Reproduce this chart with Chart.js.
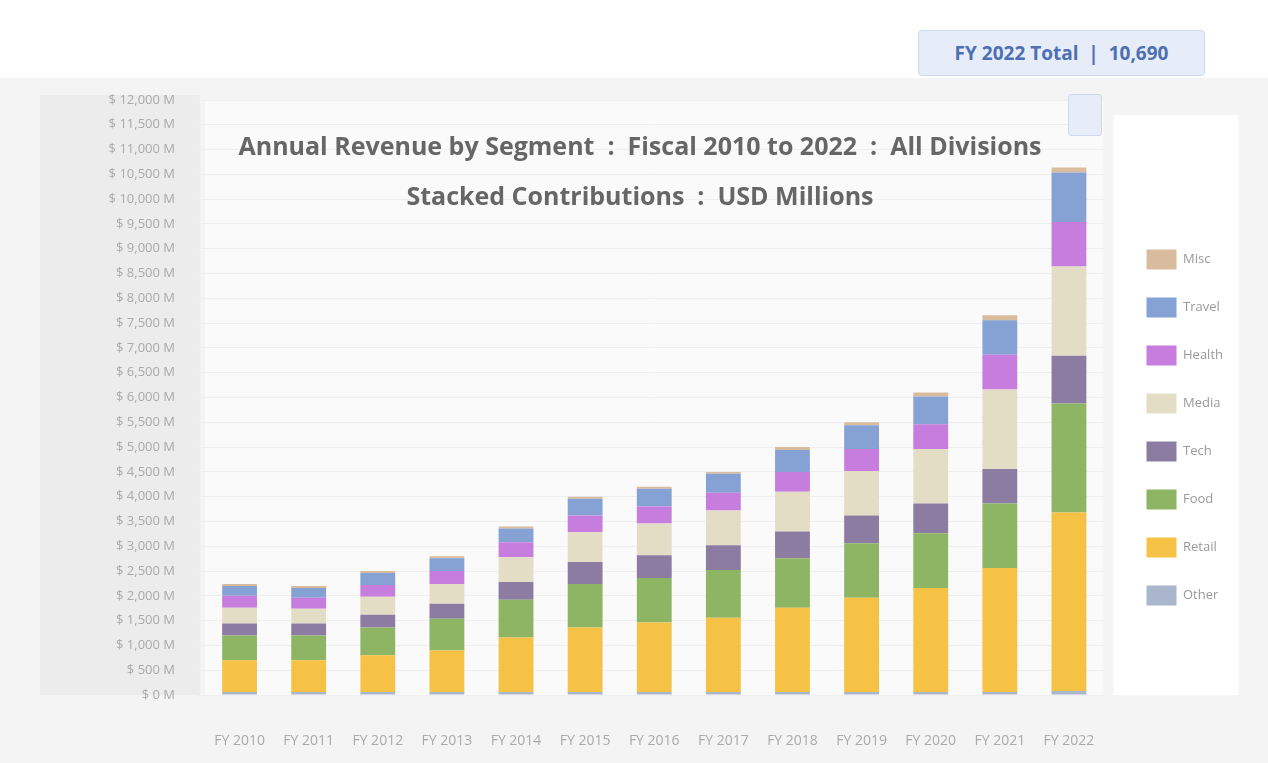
<!DOCTYPE html>
<html>
<head>
<meta charset="utf-8">
<script src="https://cdn.jsdelivr.net/npm/chart.js@4.4.1/dist/chart.umd.min.js"></script>
<style>
html, body { margin: 0; padding: 0; width: 1268px; height: 763px; overflow: hidden; background: #fff; font-family: "Open Sans", sans-serif; }
#panel { position: absolute; left: 0; top: 78px; width: 1268px; height: 700px; background: #f4f4f4; }
#wrap { position: absolute; left: 0; top: 0; width: 1268px; height: 790px; }
#title { position: absolute; left: 180px; width: 920px; top: 120px; text-align: center; font-weight: bold; font-size: 25px; line-height: 50px; color: #666; }
#badge { position: absolute; left: 918px; top: 30px; width: 285px; height: 44px; background: #e6ecf8; border: 1px solid #cfd9ee; border-radius: 4px; color: #4d6fb3; font-weight: bold; font-size: 19px; line-height: 44px; text-align: center; }
#stem { position: absolute; left: 1068px; top: 94px; width: 32px; height: 40px; background: #e6ecf8; border: 1px solid #cfd9ee; border-radius: 3px; }
</style>
</head>
<body>
<div id="panel"></div>
<div id="wrap"><canvas id="segChart" width="1268" height="790"></canvas></div>
<div id="title">Annual Revenue by Segment &nbsp;:&nbsp; Fiscal 2010 to 2022 &nbsp;:&nbsp; All Divisions<br>Stacked Contributions &nbsp;:&nbsp; USD Millions</div>
<div id="badge">FY 2022 Total &nbsp;|&nbsp; 10,690</div>
<div id="stem"></div>
<script>
// Kategori (sumbu X)
var YEARS = ['FY 2010', 'FY 2011', 'FY 2012', 'FY 2013', 'FY 2014', 'FY 2015', 'FY 2016',
             'FY 2017', 'FY 2018', 'FY 2019', 'FY 2020', 'FY 2021', 'FY 2022'];

// Nilai per segmen (urutan tumpukan: bawah -> atas)
var OTHER_VALS   = [60, 60, 60, 60, 60, 60, 60, 60, 60, 60, 60, 60, 80];
var RETAIL_VALS  = [640, 640, 740, 840, 1100, 1300, 1400, 1500, 1700, 1900, 2100, 2500, 3600];
var FOOD_VALS    = [500, 500, 560, 640, 760, 880, 900, 960, 1000, 1100, 1100, 1300, 2200];
var TECH_VALS    = [240, 240, 260, 300, 360, 440, 460, 500, 540, 560, 600, 700, 960];
var MEDIA_VALS   = [320, 300, 360, 400, 500, 600, 640, 700, 800, 900, 1100, 1600, 1800];
var HEALTH_VALS  = [240, 220, 240, 260, 300, 340, 340, 360, 400, 440, 500, 700, 900];
var TRAVEL_VALS  = [200, 200, 240, 260, 280, 340, 360, 380, 440, 480, 560, 700, 1000];
var MISC_VALS    = [40, 40, 40, 40, 40, 40, 40, 40, 60, 60, 80, 100, 100];

// Tick sumbu Y
var Y_MAX = 12000;
var Y_STEP = 500;

// Latar belakang panel (sumbu Y abu-abu, area plot, kotak legenda)
var panelBg = {
    id: 'panelBg',
    afterUpdate: function (chart) {
        // geser legenda sedikit ke kanan
        chart.legend.left += 15;
        chart.legend.right += 15;
    },
    beforeDraw: function (chart) {
        var ctx = chart.ctx;
        var area = chart.chartArea;
        ctx.save();
        ctx.fillStyle = '#ececec';
        ctx.fillRect(40, 95, area.left - 45, area.bottom - 95);
        ctx.fillStyle = '#fafafa';
        ctx.fillRect(area.left, area.top, area.right - area.left, area.bottom - area.top);
        ctx.fillStyle = '#ffffff';
        ctx.fillRect(area.right + 10, 115, 125, area.bottom - 115);
        ctx.restore();
    }
};

var ctx = document.getElementById('segChart').getContext('2d');
var segChart = new Chart(ctx, {
    type: 'bar',
    data: {
        labels: YEARS,
        datasets: [
            { label: 'Other',  backgroundColor: '#a9b6cc', data: OTHER_VALS },
            { label: 'Retail', backgroundColor: '#f5c246', data: RETAIL_VALS },
            { label: 'Food',   backgroundColor: '#8db563', data: FOOD_VALS },
            { label: 'Tech',   backgroundColor: '#8c7ca2', data: TECH_VALS },
            { label: 'Media',  backgroundColor: '#e4ddc6', data: MEDIA_VALS },
            { label: 'Health', backgroundColor: '#c67ddd', data: HEALTH_VALS },
            { label: 'Travel', backgroundColor: '#86a2d4', data: TRAVEL_VALS },
            { label: 'Misc',   backgroundColor: '#d9bb9e', data: MISC_VALS }
        ]
    },
    options: {
        responsive: false,
        animation: false,
        layout: { padding: { left: 40, top: 100, right: 50, bottom: 35 } },
        datasets: { bar: { categoryPercentage: 0.8, barPercentage: 0.63 } },
        plugins: {
            legend: {
                position: 'right',
                reverse: true,
                labels: {
                    boxWidth: 30,
                    boxHeight: 20,
                    padding: 28,
                    color: '#999',
                    font: { family: 'Open Sans', size: 13 }
                }
            },
            tooltip: { enabled: false }
        },
        scales: {
            x: {
                stacked: true,
                grid: { display: false },
                border: { display: false },
                ticks: { color: '#aaa', padding: 30, font: { family: 'Open Sans', size: 14 } },
                afterFit: function (scale) { scale.height = 60; }
            },
            y: {
                stacked: true,
                min: 0,
                max: Y_MAX,
                grid: { color: '#efefef' },
                border: { display: false },
                ticks: {
                    stepSize: Y_STEP,
                    padding: 22,
                    color: '#aaa',
                    font: { family: 'Open Sans', size: 13 },
                    callback: function (v) { return '$ ' + v.toLocaleString('en-US') + ' M'; }
                },
                afterFit: function (scale) { scale.width = 165; }
            }
        }
    },
    plugins: [panelBg]
});
</script>
</body>
</html>
